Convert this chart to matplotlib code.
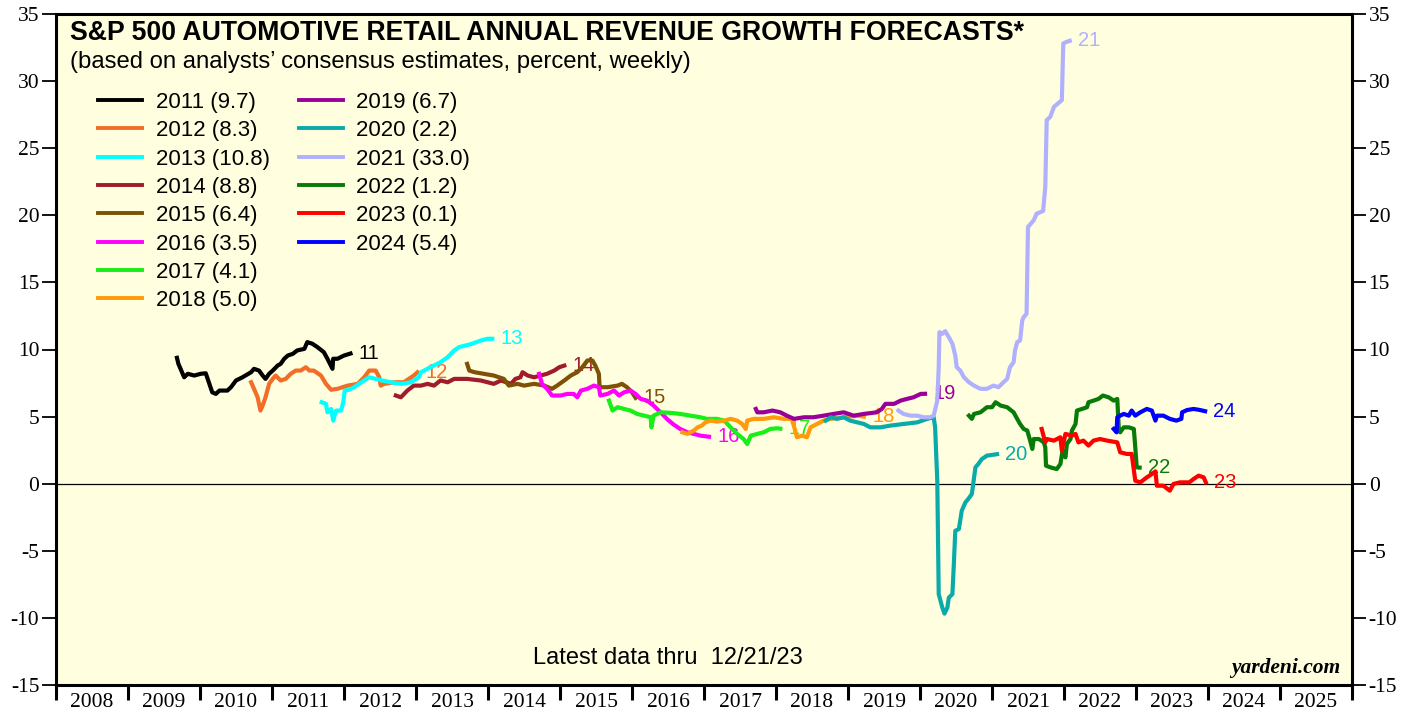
import matplotlib
matplotlib.use('Agg')
import matplotlib.pyplot as plt
from matplotlib.lines import Line2D

plt.rcParams['axes.unicode_minus'] = False

# weekly consensus forecasts, x = decimal year, y = percent
x_2011 = [2009.68, 2009.70, 2009.73, 2009.78, 2009.83, 2009.92, 2010.01, 2010.08, 2010.13, 2010.17,
          2010.22, 2010.27, 2010.38, 2010.43, 2010.50, 2010.59, 2010.71, 2010.75, 2010.82, 2010.87,
          2010.91, 2010.96, 2011.01, 2011.08, 2011.12, 2011.17, 2011.22, 2011.29, 2011.35, 2011.45,
          2011.49, 2011.56, 2011.63, 2011.72, 2011.77, 2011.84, 2011.85, 2011.91, 2012.00, 2012.09]
y_2011 = [9.38, 8.93, 8.56, 7.93, 8.19, 8.06, 8.19, 8.23, 7.44, 6.81,
          6.69, 6.94, 6.94, 7.19, 7.69, 7.93, 8.31, 8.56, 8.43, 8.06,
          7.81, 8.19, 8.43, 8.81, 8.93, 9.31, 9.55, 9.68, 9.93, 10.05,
          10.55, 10.43, 10.18, 9.80, 9.31, 8.56, 9.31, 9.31, 9.55, 9.70]

x_2012 = [2010.71, 2010.75, 2010.80, 2010.84, 2010.87, 2010.91, 2010.96, 2011.01, 2011.05, 2011.12,
          2011.19, 2011.26, 2011.33, 2011.40, 2011.47, 2011.52, 2011.58, 2011.68, 2011.75, 2011.82,
          2011.91, 2012.05, 2012.19, 2012.28, 2012.35, 2012.44, 2012.49, 2012.51, 2012.56, 2012.70,
          2012.83, 2012.97, 2013.02]
y_2012 = [7.56, 7.07, 6.44, 5.45, 5.82, 6.44, 7.44, 7.81, 8.06, 7.69,
          7.81, 8.19, 8.43, 8.43, 8.68, 8.43, 8.43, 8.06, 7.44, 7.00,
          7.07, 7.31, 7.44, 7.93, 8.43, 8.43, 7.93, 7.31, 7.44, 7.56,
          7.56, 8.06, 8.30]

x_2013 = [2011.69, 2011.75, 2011.77, 2011.82, 2011.85, 2011.89, 2011.96, 2011.99, 2012.01, 2012.07,
          2012.14, 2012.21, 2012.28, 2012.35, 2012.44, 2012.53, 2012.65, 2012.79, 2012.93, 2013.04,
          2013.07, 2013.16, 2013.25, 2013.34, 2013.44, 2013.53, 2013.60, 2013.69, 2013.78, 2013.90,
          2013.99, 2014.06]
y_2013 = [6.07, 5.95, 5.32, 5.57, 4.70, 5.45, 5.45, 6.07, 6.94, 7.00,
          7.19, 7.44, 7.69, 7.93, 7.81, 7.69, 7.56, 7.44, 7.56, 7.93,
          8.31, 8.56, 8.81, 9.05, 9.43, 9.93, 10.18, 10.30, 10.43, 10.67,
          10.80, 10.80]

x_2014 = [2012.72, 2012.79, 2012.88, 2012.97, 2013.07, 2013.16, 2013.25, 2013.34, 2013.44, 2013.53,
          2013.71, 2013.90, 2014.08, 2014.18, 2014.32, 2014.38, 2014.45, 2014.48, 2014.55, 2014.64,
          2014.73, 2014.82, 2014.92, 2014.99, 2015.06]
y_2014 = [6.57, 6.44, 6.94, 7.31, 7.31, 7.44, 7.31, 7.69, 7.56, 7.81,
          7.81, 7.69, 7.44, 7.69, 7.44, 7.81, 7.93, 8.31, 8.06, 7.93,
          8.06, 8.19, 8.43, 8.68, 8.80]

x_2015 = [2013.71, 2013.74, 2013.81, 2013.94, 2014.08, 2014.22, 2014.29, 2014.41, 2014.50, 2014.64,
          2014.78, 2014.89, 2014.96, 2015.06, 2015.15, 2015.24, 2015.31, 2015.38, 2015.45, 2015.49,
          2015.54, 2015.55, 2015.66, 2015.80, 2015.86, 2015.93, 2016.00, 2016.05]
y_2015 = [8.93, 8.43, 8.31, 8.19, 8.06, 7.81, 7.31, 7.44, 7.31, 7.44,
          7.31, 7.07, 7.31, 7.69, 8.06, 8.31, 8.68, 9.18, 9.18, 8.81,
          8.19, 7.19, 7.19, 7.31, 7.44, 7.19, 6.81, 6.40]

x_2016 = [2014.71, 2014.75, 2014.82, 2014.89, 2015.01, 2015.10, 2015.19, 2015.24, 2015.29, 2015.38,
          2015.47, 2015.54, 2015.56, 2015.66, 2015.75, 2015.82, 2015.89, 2015.98, 2016.05, 2016.12,
          2016.21, 2016.30, 2016.40, 2016.49, 2016.58, 2016.67, 2016.77, 2016.86, 2016.95, 2017.07]
y_2016 = [8.19, 7.44, 7.07, 6.57, 6.57, 6.69, 6.69, 6.44, 6.94, 7.07,
          7.31, 7.19, 6.57, 6.69, 6.94, 6.57, 6.81, 6.94, 6.69, 6.32,
          6.19, 5.82, 5.30, 4.80, 4.40, 4.08, 3.83, 3.71, 3.58, 3.50]

x_2017 = [2015.68, 2015.73, 2015.80, 2015.89, 2015.98, 2016.07, 2016.17, 2016.26, 2016.27, 2016.30,
          2016.40, 2016.53, 2016.67, 2016.81, 2016.95, 2017.04, 2017.18, 2017.28, 2017.37, 2017.46,
          2017.55, 2017.60, 2017.65, 2017.74, 2017.83, 2017.92, 2018.02, 2018.06]
y_2017 = [6.19, 5.45, 5.70, 5.57, 5.45, 5.20, 5.07, 4.95, 4.20, 5.07,
          5.32, 5.28, 5.20, 5.07, 4.95, 4.83, 4.83, 4.70, 4.20, 3.71,
          3.33, 2.96, 3.58, 3.71, 3.83, 4.08, 4.13, 4.10]

x_2018 = [2016.70, 2016.77, 2016.86, 2016.91, 2016.97, 2017.02, 2017.09, 2017.18, 2017.28, 2017.37,
          2017.46, 2017.53, 2017.58, 2017.60, 2017.69, 2017.83, 2017.97, 2018.11, 2018.22, 2018.26,
          2018.29, 2018.36, 2018.43, 2018.48, 2018.57, 2018.66, 2018.76, 2018.94, 2019.13, 2019.22]
y_2018 = [3.83, 3.71, 3.96, 4.20, 4.33, 4.57, 4.70, 4.63, 4.70, 4.83,
          4.70, 4.45, 4.08, 4.70, 4.83, 4.83, 4.95, 4.83, 4.83, 4.08,
          3.46, 3.58, 3.46, 4.20, 4.45, 4.70, 4.83, 4.95, 5.07, 5.00]

x_2019 = [2017.72, 2017.74, 2017.83, 2017.95, 2018.06, 2018.15, 2018.25, 2018.39, 2018.52, 2018.66,
          2018.80, 2018.94, 2019.08, 2019.22, 2019.40, 2019.47, 2019.52, 2019.64, 2019.73, 2019.82,
          2019.91, 2020.01, 2020.07]
y_2019 = [5.57, 5.32, 5.32, 5.45, 5.32, 5.07, 4.83, 4.95, 4.95, 5.07,
          5.20, 5.32, 5.07, 5.20, 5.32, 5.57, 5.95, 5.95, 6.19, 6.32,
          6.44, 6.69, 6.70]

x_2020 = [2018.69, 2018.76, 2018.85, 2018.94, 2019.03, 2019.13, 2019.22, 2019.31, 2019.45, 2019.59,
          2019.77, 2019.96, 2020.10, 2020.19, 2020.21, 2020.24, 2020.26, 2020.31, 2020.34, 2020.38,
          2020.40, 2020.45, 2020.47, 2020.49, 2020.54, 2020.58, 2020.63, 2020.67, 2020.72, 2020.77,
          2020.81, 2020.86, 2020.93, 2021.07]
y_2020 = [4.70, 4.95, 4.83, 4.95, 4.70, 4.57, 4.45, 4.20, 4.20, 4.33,
          4.45, 4.57, 4.83, 4.95, 4.20, 0.20, -8.23, -9.23, -9.68, -9.23,
          -8.49, -8.23, -6.00, -3.51, -3.38, -2.01, -1.40, -1.14, -0.77, 1.22,
          1.47, 1.84, 2.09, 2.20]

x_2021 = [2019.70, 2019.77, 2019.87, 2019.96, 2020.05, 2020.14, 2020.19, 2020.24, 2020.26, 2020.27,
          2020.31, 2020.35, 2020.40, 2020.45, 2020.49, 2020.51, 2020.56, 2020.61, 2020.68, 2020.75,
          2020.84, 2020.93, 2021.02, 2021.09, 2021.16, 2021.21, 2021.25, 2021.30, 2021.32, 2021.35,
          2021.39, 2021.42, 2021.44, 2021.48, 2021.50, 2021.58, 2021.62, 2021.71, 2021.74, 2021.76,
          2021.81, 2021.86, 2021.97, 2021.99, 2022.04, 2022.08]
y_2021 = [5.45, 5.20, 5.07, 5.07, 4.95, 4.95, 5.07, 6.19, 8.68, 11.29,
          11.17, 11.37, 10.92, 10.43, 9.55, 8.68, 8.43, 7.93, 7.56, 7.31,
          7.07, 7.07, 7.31, 7.19, 7.56, 7.81, 8.68, 9.05, 9.93, 10.55,
          10.67, 12.16, 12.41, 12.66, 19.13, 19.63, 20.12, 20.32, 22.11, 27.09,
          27.34, 28.08, 28.58, 32.81, 32.93, 33.00]

x_2022 = [2020.68, 2020.72, 2020.75, 2020.84, 2020.93, 2021.00, 2021.05, 2021.12, 2021.21, 2021.30,
          2021.35, 2021.39, 2021.44, 2021.49, 2021.53, 2021.56, 2021.58, 2021.65, 2021.72, 2021.74,
          2021.75, 2021.81, 2021.90, 2021.95, 2021.98, 2022.02, 2022.04, 2022.09, 2022.11, 2022.16,
          2022.18, 2022.25, 2022.32, 2022.34, 2022.41, 2022.48, 2022.54, 2022.62, 2022.69, 2022.74,
          2022.76, 2022.78, 2022.83, 2022.90, 2022.97, 2022.99, 2023.01, 2023.05]
y_2022 = [5.07, 4.83, 5.20, 5.32, 5.70, 5.70, 6.07, 5.82, 5.70, 5.32,
          4.83, 4.45, 4.08, 3.96, 3.21, 2.59, 3.33, 3.33, 3.08, 2.71,
          1.34, 1.22, 1.09, 1.47, 2.46, 1.96, 2.96, 3.33, 3.96, 4.45,
          5.45, 5.57, 5.70, 6.07, 6.19, 6.32, 6.57, 6.44, 6.19, 6.32,
          4.20, 3.83, 4.20, 4.20, 4.08, 2.71, 1.22, 1.20]

x_2023 = [2021.69, 2021.74, 2021.76, 2021.86, 2021.95, 2021.97, 2022.02, 2022.11, 2022.16, 2022.20,
          2022.27, 2022.34, 2022.41, 2022.50, 2022.60, 2022.74, 2022.78, 2022.87, 2022.94, 2022.99,
          2023.06, 2023.15, 2023.22, 2023.27, 2023.29, 2023.38, 2023.47, 2023.52, 2023.61, 2023.74,
          2023.80, 2023.87, 2023.94, 2023.97]
y_2023 = [4.08, 3.08, 3.33, 3.21, 3.46, 2.46, 3.71, 3.58, 3.71, 3.08,
          3.21, 2.84, 3.21, 3.33, 3.21, 3.08, 2.34, 2.22, 2.22, 0.22,
          0.10, 0.47, 0.72, 0.92, -0.15, -0.15, -0.52, -0.02, 0.10, 0.10,
          0.35, 0.60, 0.47, 0.10]

x_2024 = [2022.69, 2022.73, 2022.74, 2022.78, 2022.83, 2022.90, 2022.94, 2022.99, 2023.06, 2023.15,
          2023.22, 2023.27, 2023.29, 2023.38, 2023.47, 2023.56, 2023.63, 2023.64, 2023.71, 2023.80,
          2023.89, 2023.96]
y_2024 = [4.08, 3.83, 4.95, 5.07, 5.20, 5.07, 5.45, 5.07, 5.32, 5.57,
          5.45, 4.70, 5.07, 5.07, 4.83, 4.70, 4.83, 5.32, 5.49, 5.57,
          5.49, 5.40]

years = [2011, 2012, 2013, 2014, 2015, 2016, 2017, 2018, 2019, 2020, 2021, 2022, 2023, 2024]
latest = ['9.7', '8.3', '10.8', '8.8', '6.4', '3.5', '4.1', '5.0', '6.7', '2.2', '33.0', '1.2', '0.1', '5.4']
colors = ['#000000', '#F26D28', '#00FFFF', '#A01B2B', '#7F5106', '#FF00FF', '#18EE18',
          '#FF9A0A', '#990099', '#0BAAAA', '#B0B0FF', '#087A08', '#FF0000', '#0000FF']
xs = [x_2011, x_2012, x_2013, x_2014, x_2015, x_2016, x_2017,
      x_2018, x_2019, x_2020, x_2021, x_2022, x_2023, x_2024]
ys = [y_2011, y_2012, y_2013, y_2014, y_2015, y_2016, y_2017,
      y_2018, y_2019, y_2020, y_2021, y_2022, y_2023, y_2024]

sans = 'Liberation Sans'
serif = 'Liberation Serif'

fig = plt.figure(figsize=(14.17, 7.19), dpi=100)
ax = fig.add_axes([56 / 1417, 1 - 685 / 719, 1296 / 1417, 671 / 719])
ax.set_facecolor('#FFFFE0')

ax.axhline(0, color='black', lw=0.9, zorder=1)

handles = []
for yr, val, c, x, y in zip(years, latest, colors, xs, ys):
    ax.plot(x, y, color=c, lw=3.0, solid_joinstyle='round', zorder=3)
    ax.annotate(str(yr)[2:], (x[-1], y[-1]), xytext=(6, 0), textcoords='offset points',
                va='center', ha='left', color=c, fontsize=14.5, family=sans)
    handles.append(Line2D([], [], color=c, lw=2.8))

# blank entry so the legend splits 8 + 6 like the original
labels = ['%d (%s)' % (yr, v) for yr, v in zip(years, latest)]
handles.append(Line2D([], [], color='none'))
labels.append('')
leg = ax.legend(handles, labels, ncol=2, loc='upper left', bbox_to_anchor=(0.0324, 0.884),
                frameon=False, borderpad=0, borderaxespad=0, handlelength=2.0,
                handletextpad=0.6, columnspacing=1.3, labelspacing=0.33,
                prop={'family': sans, 'size': 16})

ax.text(0.0108, 0.9717, 'S&P 500 AUTOMOTIVE RETAIL ANNUAL REVENUE GROWTH FORECASTS*',
        transform=ax.transAxes, fontsize=19.2, fontweight='bold', family=sans, va='center')
ax.text(0.0108, 0.9285, '(based on analysts\u2019 consensus estimates, percent, weekly)',
        transform=ax.transAxes, fontsize=17.2, family=sans, va='center')
ax.text(0.472, 0.040, 'Latest data thru  12/21/23', transform=ax.transAxes,
        fontsize=17, family=sans, ha='center', va='center')
ax.text(0.9907, 0.025, 'yardeni.com', transform=ax.transAxes, fontsize=15.5,
        family=serif, fontweight='bold', style='italic', ha='right', va='center')

ax.set_xlim(2008, 2026)
ax.set_ylim(-15, 35)

ax.set_yticks(range(-15, 36, 5))
ax.tick_params(axis='y', which='both', direction='out', length=10, width=1.3,
               left=True, right=True, labelleft=True, labelright=True, pad=2,
               labelsize=15.5)

# year boundaries get the ticks, labels sit mid-year
ax.set_xticks(range(2008, 2027))
ax.set_xticklabels([])
ax.set_xticks([yr + 0.5 for yr in range(2008, 2026)], minor=True)
ax.set_xticklabels([str(yr) for yr in range(2008, 2026)], minor=True)
ax.tick_params(axis='x', which='major', direction='out', length=11, width=2.2)
ax.tick_params(axis='x', which='minor', length=0, pad=6, labelsize=15.5)

for lab in ax.get_xticklabels(minor=True) + ax.get_yticklabels():
    lab.set_family(serif)
for t in ax.yaxis.get_major_ticks():
    t.label2.set_family(serif)

for s in ax.spines.values():
    s.set_linewidth(2.2)

fig.savefig('out.png', dpi=100, facecolor='white')
